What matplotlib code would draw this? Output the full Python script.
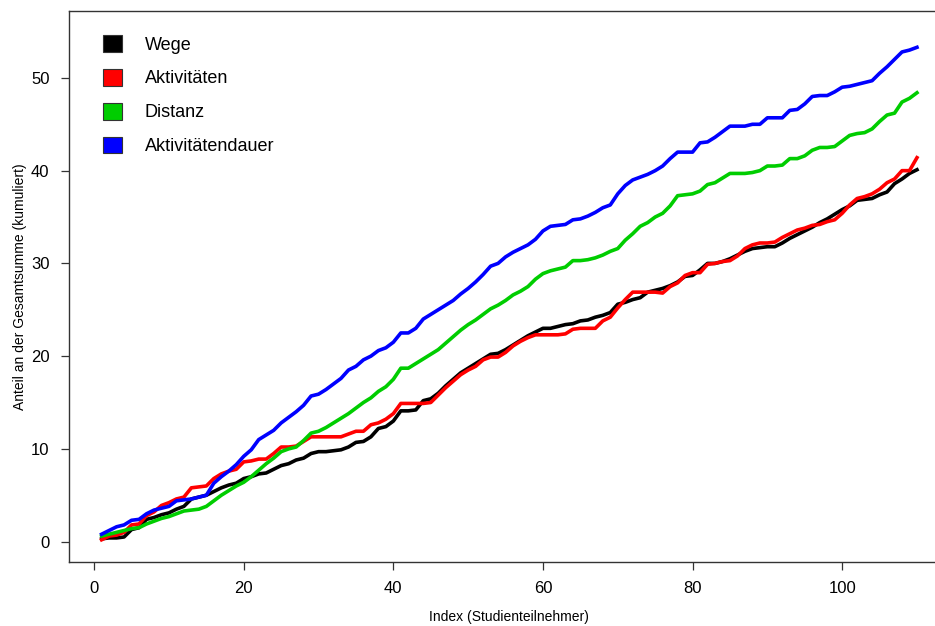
import matplotlib
matplotlib.use("Agg")
import matplotlib.pyplot as plt
from matplotlib.patches import Patch

plt.rcParams["font.family"] = ["Liberation Sans", "DejaVu Sans"]

# Cumulative shares per participant index
index = list(range(1, 111))

wege = [
    0.3, 0.4, 0.4, 0.5, 1.3, 1.5, 2.4, 2.6, 2.9, 3.1,
    3.5, 3.8, 4.6, 4.8, 5.0, 5.4, 5.8, 6.1, 6.3, 6.8,
    7.0, 7.3, 7.4, 7.8, 8.2, 8.4, 8.8, 9.0, 9.5, 9.7,
    9.7, 9.8, 9.9, 10.2, 10.7, 10.8, 11.3, 12.2, 12.4, 13.0,
    14.1, 14.1, 14.2, 15.2, 15.4, 16.0, 16.8, 17.5, 18.2, 18.7,
    19.2, 19.7, 20.2, 20.3, 20.7, 21.2, 21.7, 22.2, 22.6, 23.0,
    23.0, 23.2, 23.4, 23.5, 23.8, 23.9, 24.2, 24.4, 24.7, 25.6,
    25.8, 26.1, 26.3, 26.9, 27.1, 27.3, 27.6, 28.0, 28.6, 28.7,
    29.3, 30.0, 30.0, 30.2, 30.5, 30.9, 31.3, 31.6, 31.7, 31.8,
    31.8, 32.2, 32.7, 33.1, 33.5, 33.9, 34.4, 34.8, 35.3, 35.8,
    36.2, 36.8, 36.9, 37.0, 37.4, 37.7, 38.6, 39.1, 39.7, 40.1,
]

aktivitaeten = [
    0.2, 0.6, 0.7, 1.0, 1.8, 1.9, 2.8, 3.2, 3.9, 4.2,
    4.6, 4.8, 5.8, 5.9, 6.0, 6.8, 7.3, 7.6, 7.8, 8.6,
    8.7, 8.9, 8.9, 9.5, 10.2, 10.2, 10.3, 10.8, 11.3, 11.3,
    11.3, 11.3, 11.3, 11.6, 11.9, 11.9, 12.6, 12.8, 13.2, 13.8,
    14.9, 14.9, 14.9, 14.9, 15.0, 15.8, 16.6, 17.3, 18.0, 18.5,
    18.9, 19.6, 19.9, 19.9, 20.4, 21.1, 21.6, 22.0, 22.3, 22.3,
    22.3, 22.3, 22.4, 22.9, 23.0, 23.0, 23.0, 23.8, 24.2, 25.2,
    26.1, 26.9, 26.9, 26.9, 26.9, 26.8, 27.5, 27.9, 28.7, 29.0,
    29.0, 29.9, 30.0, 30.2, 30.3, 30.8, 31.6, 32.0, 32.2, 32.2,
    32.3, 32.8, 33.2, 33.6, 33.8, 34.1, 34.2, 34.5, 34.7, 35.4,
    36.3, 37.0, 37.2, 37.5, 38.0, 38.7, 39.1, 40.0, 40.0, 41.4,
]

distanz = [
    0.6, 0.8, 1.0, 1.2, 1.4, 1.5, 1.9, 2.2, 2.5, 2.7,
    3.0, 3.3, 3.4, 3.5, 3.8, 4.4, 5.0, 5.5, 6.0, 6.4,
    7.0, 7.7, 8.4, 9.0, 9.7, 10.0, 10.2, 10.9, 11.7, 11.9,
    12.3, 12.8, 13.3, 13.8, 14.4, 15.0, 15.5, 16.2, 16.7, 17.5,
    18.7, 18.7, 19.2, 19.7, 20.2, 20.7, 21.4, 22.1, 22.8, 23.4,
    23.9, 24.5, 25.1, 25.5, 26.0, 26.6, 27.0, 27.5, 28.3, 28.9,
    29.2, 29.4, 29.6, 30.3, 30.3, 30.4, 30.6, 30.9, 31.3, 31.6,
    32.5, 33.2, 34.0, 34.4, 35.0, 35.4, 36.2, 37.3, 37.4, 37.5,
    37.8, 38.5, 38.7, 39.2, 39.7, 39.7, 39.7, 39.8, 40.0, 40.5,
    40.5, 40.6, 41.3, 41.3, 41.6, 42.2, 42.5, 42.5, 42.6, 43.2,
    43.8, 44.0, 44.1, 44.5, 45.3, 46.0, 46.2, 47.4, 47.8, 48.4,
]

aktivitaetendauer = [
    0.8, 1.2, 1.6, 1.8, 2.3, 2.4, 3.0, 3.4, 3.6, 3.8,
    4.4, 4.5, 4.6, 4.8, 5.0, 6.3, 7.0, 7.6, 8.3, 9.2,
    9.9, 11.0, 11.5, 12.0, 12.8, 13.4, 14.0, 14.7, 15.7, 15.9,
    16.4, 17.0, 17.6, 18.5, 18.9, 19.6, 20.0, 20.6, 20.9, 21.5,
    22.5, 22.5, 23.0, 24.0, 24.5, 25.0, 25.5, 26.0, 26.7, 27.3,
    28.0, 28.8, 29.7, 30.0, 30.7, 31.2, 31.6, 32.0, 32.6, 33.5,
    34.0, 34.1, 34.2, 34.7, 34.8, 35.1, 35.5, 36.0, 36.3, 37.5,
    38.4, 39.0, 39.3, 39.6, 40.0, 40.5, 41.3, 42.0, 42.0, 42.0,
    43.0, 43.1, 43.6, 44.2, 44.8, 44.8, 44.8, 45.0, 45.0, 45.7,
    45.7, 45.7, 46.5, 46.6, 47.2, 48.0, 48.1, 48.1, 48.5, 49.0,
    49.1, 49.3, 49.5, 49.7, 50.5, 51.2, 52.0, 52.8, 53.0, 53.3,
]

series_labels = ["Wege", "Aktivitäten", "Distanz", "Aktivitätendauer"]
series_colors = ["#000000", "#FF0000", "#00CD00", "#0000FF"]
x_ticks = [0, 20, 40, 60, 80, 100]
y_ticks = [0, 10, 20, 30, 40, 50]

fig = plt.figure(figsize=(9.35, 6.26), dpi=100)
# Plot region runs slightly past the right edge of the canvas
ax = fig.add_axes([0.0738, 0.1022, 0.9418, 0.880])

for values, color in zip([wege, aktivitaeten, distanz, aktivitaetendauer], series_colors):
    ax.plot(index, values, color=color, lw=2.6, solid_joinstyle="round")

ax.set_xlim(-3.36, 114.36)
ax.set_ylim(-2.2, 57.2)
ax.set_xticks(x_ticks)
ax.set_yticks(y_ticks)
ax.tick_params(axis="both", direction="out", length=6, width=0.9,
               labelsize=12, pad=8, color="#333333")
for s in ax.spines.values():
    s.set_linewidth(1.0)
    s.set_color("#333333")

ax.set_xlabel("Index (Studienteilnehmer)", fontsize=10, labelpad=10)
ax.set_ylabel("Anteil an der Gesamtsumme (kumuliert)", fontsize=10, labelpad=3)

handles = [Patch(facecolor=c, edgecolor="#333333", linewidth=0.8) for c in series_colors]
fig.legend(handles, series_labels, loc="upper left",
           bbox_to_anchor=(103 / 935, 1 - 35 / 626), bbox_transform=fig.transFigure,
           frameon=False, fontsize=13, handlelength=1.05, handleheight=1.05,
           handletextpad=1.25, labelspacing=0.85, borderpad=0, borderaxespad=0)

fig.savefig("out.png", dpi=100)
